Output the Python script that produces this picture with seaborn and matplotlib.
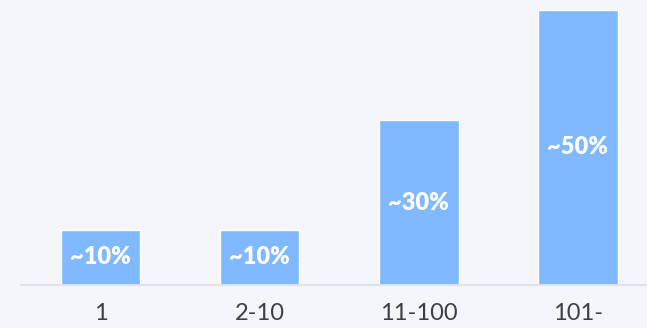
import matplotlib
matplotlib.use("Agg")
import matplotlib.pyplot as plt
import seaborn as sns
import pandas as pd

categories = ["1", "2-10", "11-100", "101-"]
shares = [10, 10, 30, 50]
value_labels = ["~10%", "~10%", "~30%", "~50%"]

BG = "#f5f6fb"
BAR = "#80b9ff"
AXIS = "#dfe2ea"
TEXT = "#3a3f4a"

sns.set_theme(style="white")
plt.rcParams["font.family"] = ["Lato", "DejaVu Sans"]

df = pd.DataFrame({"group": categories, "share": shares})

fig = plt.figure(figsize=(6.47, 3.28), dpi=100, facecolor=BG)
ax = fig.add_axes([21 / 647, 43 / 328, 636.5 / 647, 285 / 328])
ax.set_facecolor(BG)

sns.barplot(data=df, x="group", y="share", color=BAR, width=0.5,
            saturation=1, ax=ax)

ax.set_xlim(-0.5, 3.5)
ax.set_ylim(0, 285 / 5.5)

for i, (v, lab) in enumerate(zip(shares, value_labels)):
    ax.text(i, v / 2, lab, ha="center", va="center", color="white",
            fontsize=17, fontweight="heavy")

for side in ["top", "right", "left"]:
    ax.spines[side].set_visible(False)
ax.spines["bottom"].set_color(AXIS)
ax.spines["bottom"].set_linewidth(1.5)
ax.set_yticks([])
ax.set_xlabel("")
ax.set_ylabel("")
ax.tick_params(axis="x", length=0, pad=13, labelsize=17, labelcolor=TEXT)

fig.savefig("out.png", dpi=100, facecolor=BG)
